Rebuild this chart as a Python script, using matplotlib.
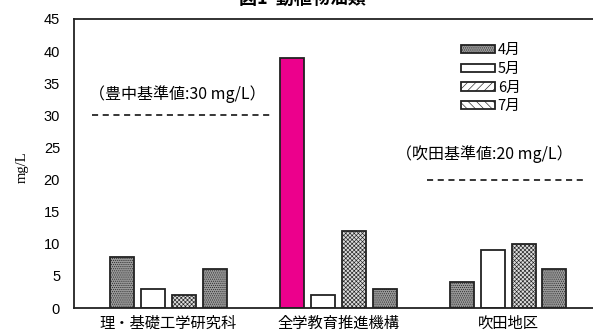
import matplotlib
matplotlib.use("AGG")
import matplotlib.pyplot as plt
from matplotlib.patches import Patch
import numpy as np

plt.rcParams['font.family'] = ['Noto Sans CJK JP', 'DejaVu Sans']
plt.rcParams['hatch.linewidth'] = 0.45

# data
categories = ["理・基礎工学研究科", "全学教育推進機構", "吹田地区"]
months = ["4月", "5月", "6月", "7月"]
values = {
    "4月": [8, 39, 4],
    "5月": [3, 2, 9],
    "6月": [2, 12, 10],
    "7月": [6, 3, 6],
}
toyonaka_limit = 30
suita_limit = 20
yticks = [0, 5, 10, 15, 20, 25, 30, 35, 40, 45]

W, H = 593, 335
fig = plt.figure(figsize=(W / 100, H / 100), dpi=100)
ax = fig.add_axes([74 / W, 27 / H, 536 / W, 289 / H])

x = np.arange(len(categories))
width = 0.141
pitch = 0.182

styles = {
    "4月": dict(facecolor="#9a9a9a", hatch="........"),
    "5月": dict(facecolor="white", hatch=None),
    "6月": dict(facecolor="#dddddd", hatch="xxxxxxxx"),
    "7月": dict(facecolor="#9a9a9a", hatch="........"),
}
for i, m in enumerate(months):
    offs = (i - 1.5) * pitch
    bars = ax.bar(x + offs, values[m], width, edgecolor="#222222",
                  linewidth=1.3, **styles[m])
    if m == "4月":
        bars[1].set_facecolor("#ec008c")
        bars[1].set_hatch(None)

# limit lines
ax.plot([-0.45, 0.6], [toyonaka_limit] * 2, ls=(0, (4, 3)), color="black", lw=1.1)
ax.plot([1.52, 2.45], [suita_limit] * 2, ls=(0, (4, 3)), color="black", lw=1.1)
ax.text(-0.47, 33.3, "（豊中基準値:30 mg/L）", fontsize=11.5, va="center", ha="left")
ax.text(1.34, 23.9, "（吹田基準値:20 mg/L）", fontsize=11.5, va="center", ha="left")

ax.set_xlim(-0.556, 2.6)
ax.set_ylim(0, 45)
ax.set_yticks(yticks)
ax.set_xticks(x)
ax.set_xticklabels(categories, fontsize=11)
ax.tick_params(axis="both", length=0)
ax.tick_params(axis="y", pad=10)
ax.tick_params(axis="x", pad=5)
for lab in ax.get_yticklabels():
    lab.set_family(["Liberation Sans", "DejaVu Sans"])
    lab.set_fontsize(10.5)
for s in ax.spines.values():
    s.set_linewidth(1.3)
    s.set_color("#222222")
ax.spines["right"].set_visible(False)

fig.text(22 / W, 0.5, "mg/L", rotation=90, family="Liberation Serif",
         fontsize=10.5, ha="center", va="center")

fig.text(302 / W, (H - 8) / H, "図1  動植物油類", fontsize=13, fontweight="bold",
         ha="center", va="bottom")

handles = [
    Patch(facecolor="#9a9a9a", hatch="........", edgecolor="#222222", lw=1.3),
    Patch(facecolor="white", edgecolor="#222222", lw=1.3),
    Patch(facecolor="white", hatch="////", edgecolor="#222222", lw=1.3),
    Patch(facecolor="white", hatch="\\\\\\\\", edgecolor="#222222", lw=1.3),
]
fig.legend(handles, months, loc="upper left",
           bbox_to_anchor=(454 / W, (H - 36) / H), frameon=False,
           fontsize=10.5, handlelength=2.3, handleheight=0.5,
           handletextpad=0.2, labelspacing=0.32, borderpad=0)

fig.savefig("out.png", dpi=100)
